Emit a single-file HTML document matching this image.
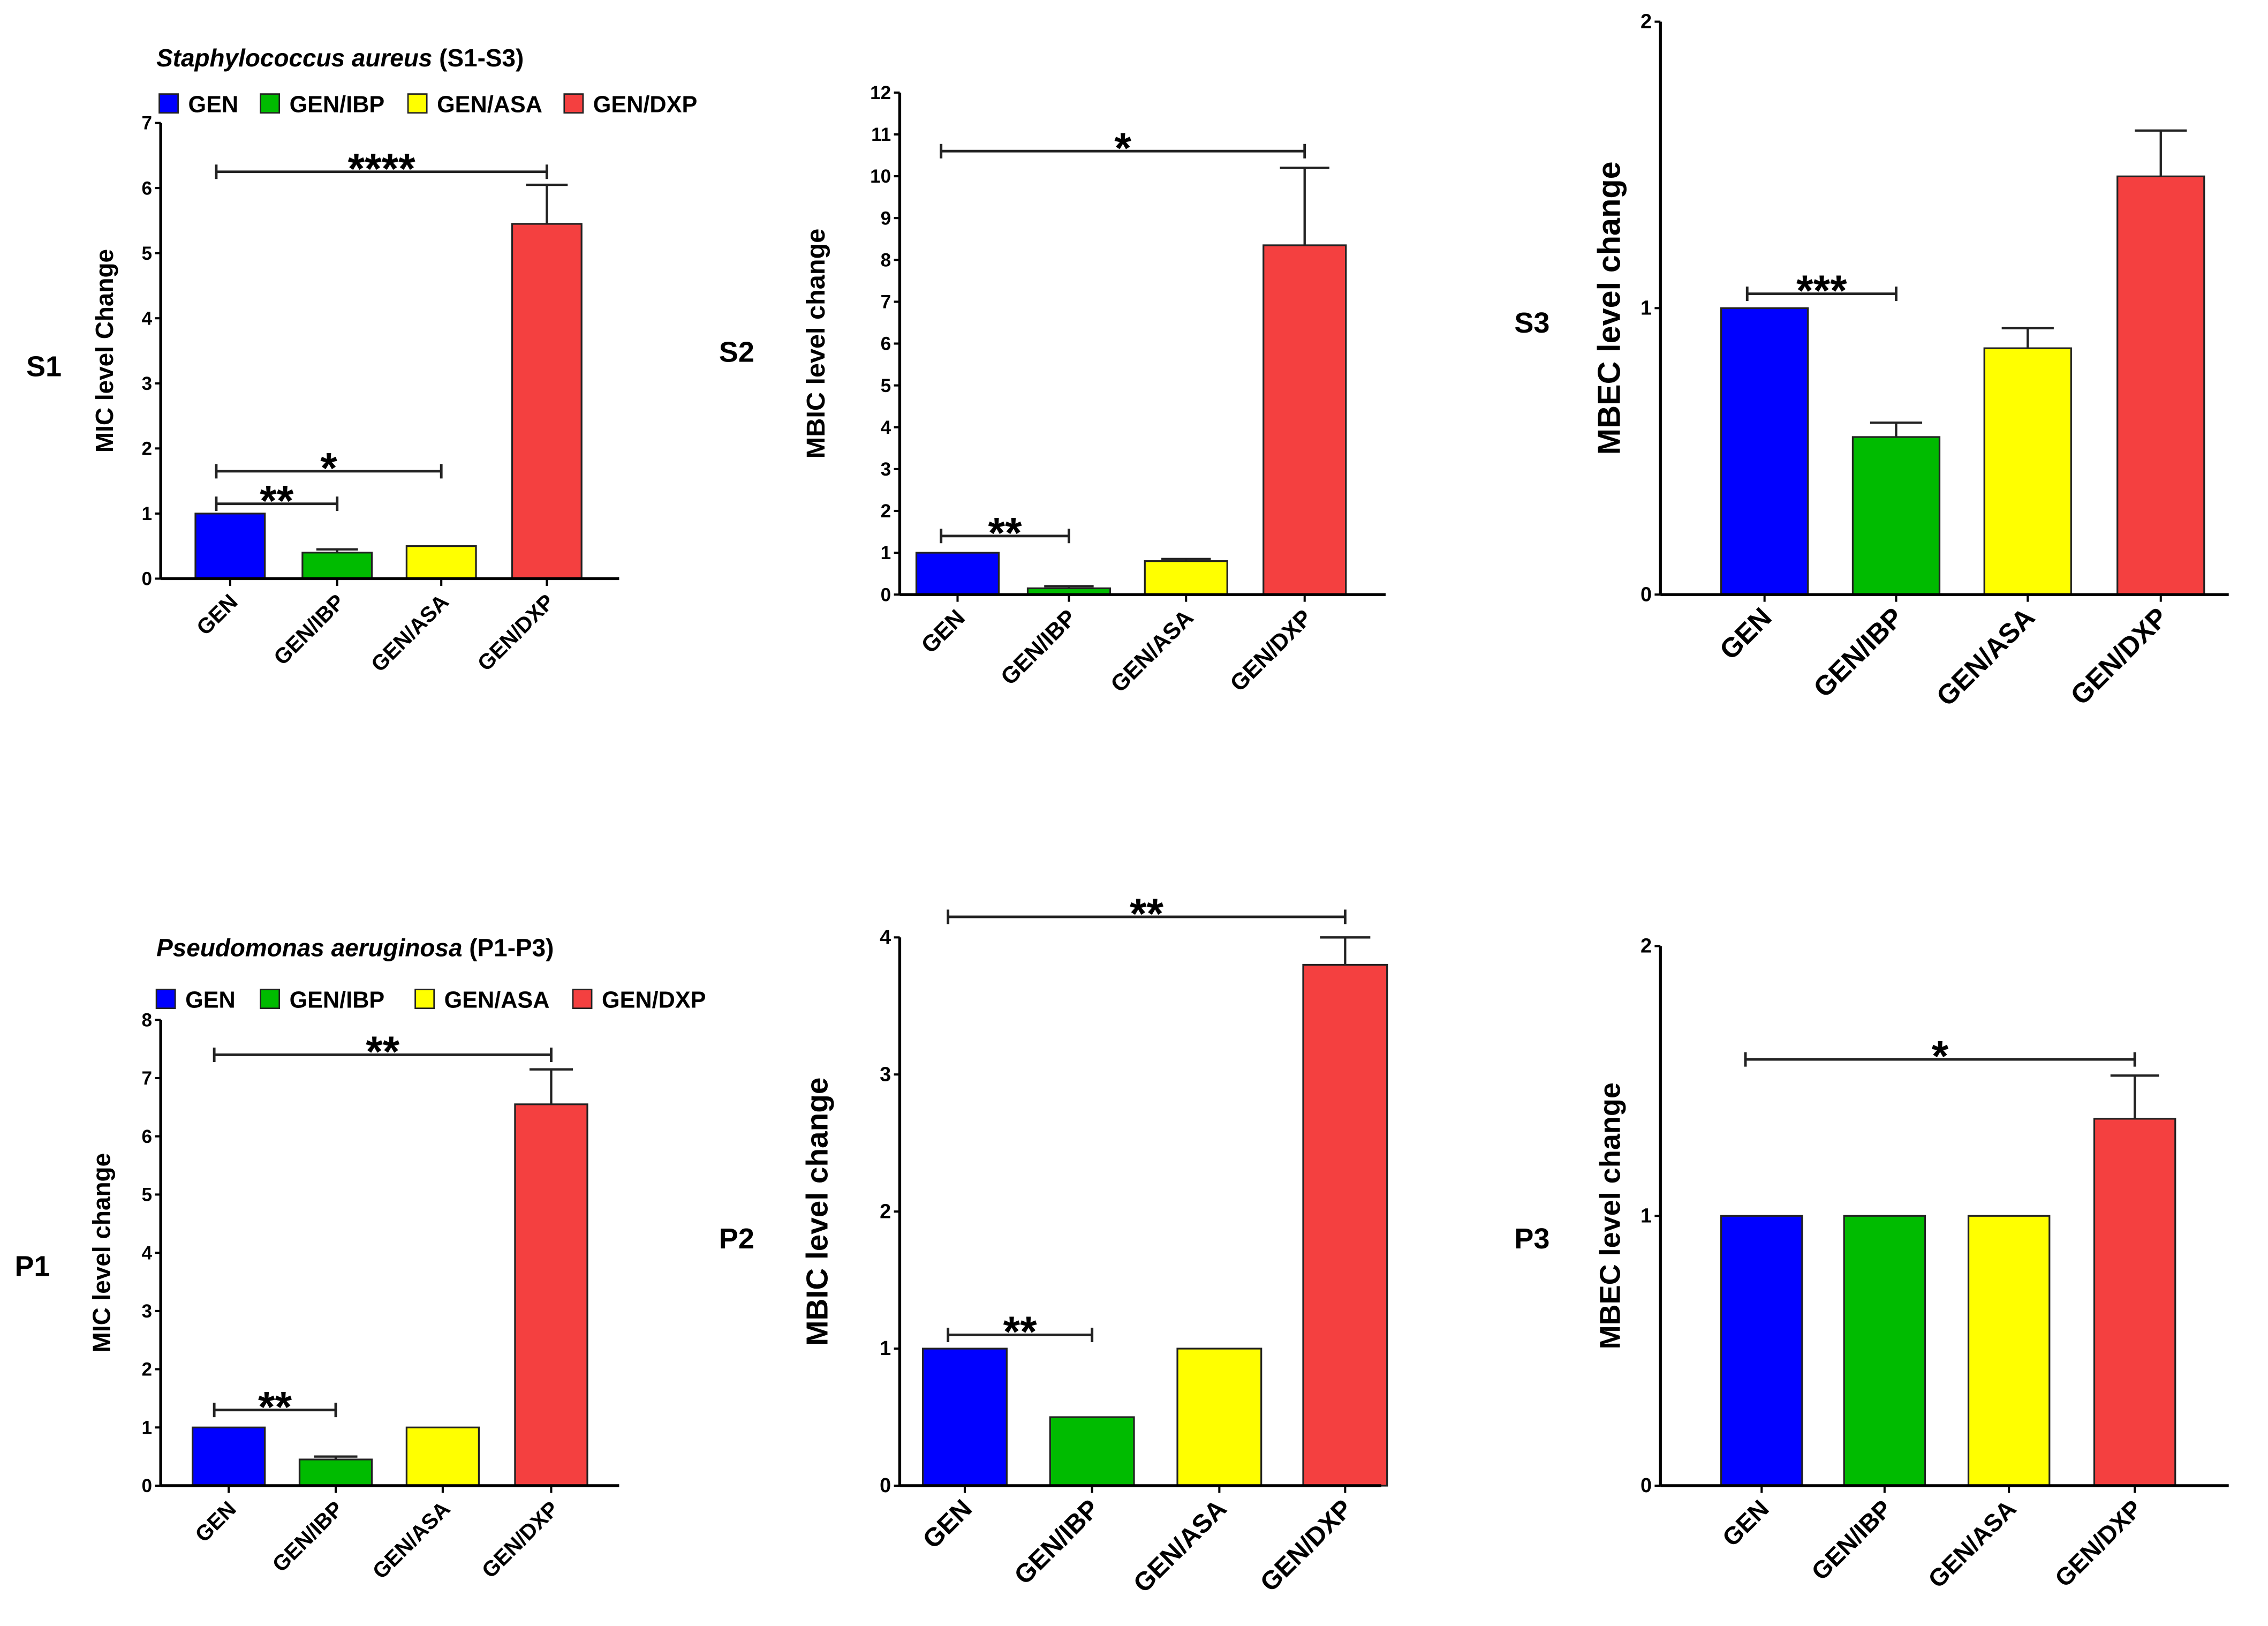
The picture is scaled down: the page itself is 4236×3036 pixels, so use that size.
<!DOCTYPE html>
<html><head><meta charset="utf-8">
<style>
html,body{margin:0;padding:0;background:#fff;}
svg{display:block;font-family:"Liberation Sans",Arial,sans-serif;}
</style></head>
<body>
<svg id="fig" width="4236" height="3036" viewBox="0 0 1568 1124" xmlns="http://www.w3.org/2000/svg">
<rect x="0" y="0" width="1568" height="1124" fill="#fff"/>
</svg>
<script>
const categories = ["GEN","GEN/IBP","GEN/ASA","GEN/DXP"];
const colors = ["#0000ff","#00bb00","#ffff00","#f44040"];
const s1Values = [1, 0.4, 0.5, 5.45];
const s1Errors = [0, 0.45, 0, 6.05];
const s2Values = [1, 0.15, 0.8, 8.35];
const s2Errors = [0, 0.2, 0.85, 10.2];
const s3Values = [1, 0.55, 0.86, 1.46];
const s3Errors = [0, 0.6, 0.93, 1.62];
const p1Values = [1, 0.45, 1, 6.55];
const p1Errors = [0, 0.5, 0, 7.15];
const p2Values = [1, 0.5, 1, 3.8];
const p2Errors = [0, 0, 0, 4.0];
const p3Values = [1, 1, 1, 1.36];
const p3Errors = [0, 0, 0, 1.52];
const s1Ticks = [0,1,2,3,4,5,6,7];
const s2Ticks = [0,1,2,3,4,5,6,7,8,9,10,11,12];
const s3Ticks = [0,1,2];
const p1Ticks = [0,1,2,3,4,5,6,7,8];
const p2Ticks = [0,1,2,3,4];
const p3Ticks = [0,1,2];
const s1Sig = [[0,1,1.15,"**"],[0,2,1.65,"*"],[0,3,6.25,"****"]];
const s2Sig = [[0,1,1.4,"**"],[0,3,10.6,"*"]];
const s3Sig = [[0,1,1.05,"***"]];
const p1Sig = [[0,1,1.3,"**"],[0,3,7.4,"**"]];
const p2Sig = [[0,1,1.1,"**"],[0,3,4.15,"**"]];
const p3Sig = [[0,3,1.58,"*"]];

const NS="http://www.w3.org/2000/svg";
const svg=document.getElementById('fig');
function mk(tag,attrs,parent,text){const e=document.createElementNS(NS,tag);for(const k in attrs)e.setAttribute(k,attrs[k]);if(text!==undefined)e.textContent=text;(parent||svg).appendChild(e);return e;}

const panels=[
 {id:'s1',ax:111,top:85,bot:400,right:428,max:7,centers:[159,233,305,378],bw:48,vals:s1Values,errs:s1Errors,ticks:s1Ticks,sig:s1Sig,ylab:'MIC level Change',ylx:78,lab:'S1',lx:18,ly:260,fs:13,lfs:17,xfs:15,bold:true},
 {id:'s2',ax:622,top:64,bot:411,right:958,max:12,centers:[662,739,820,902],bw:57,vals:s2Values,errs:s2Errors,ticks:s2Ticks,sig:s2Sig,ylab:'MBIC level change',ylx:570,lab:'S2',lx:497,ly:250,fs:13,lfs:18,xfs:16,bold:true},
 {id:'s3',ax:1148,top:15,bot:411,right:1541,max:2,centers:[1220,1311,1402,1494],bw:60,vals:s3Values,errs:s3Errors,ticks:s3Ticks,sig:s3Sig,ylab:'MBEC level change',ylx:1120,lab:'S3',lx:1047,ly:230,fs:14,lfs:22,xfs:19,bold:true},
 {id:'p1',ax:111,top:705,bot:1027,right:428,max:8,centers:[158,232,306,381],bw:50,vals:p1Values,errs:p1Errors,ticks:p1Ticks,sig:p1Sig,ylab:'MIC level change',ylx:76,lab:'P1',lx:10,ly:882,fs:13,lfs:17,xfs:15,bold:true},
 {id:'p2',ax:622,top:648,bot:1027,right:955,max:4,centers:[667,755,843,930],bw:58,vals:p2Values,errs:p2Errors,ticks:p2Ticks,sig:p2Sig,ylab:'MBIC level change',ylx:572,lab:'P2',lx:497,ly:863,fs:14,lfs:21,xfs:18,bold:true},
 {id:'p3',ax:1148,top:654,bot:1027,right:1541,max:2,centers:[1218,1303,1389,1476],bw:56,vals:p3Values,errs:p3Errors,ticks:p3Ticks,sig:p3Sig,ylab:'MBEC level change',ylx:1120,lab:'P3',lx:1047,ly:863,fs:14,lfs:20,xfs:17,bold:true}
];

panels.forEach(p=>{
  const g=mk('g',{});
  
  
  const y=v=>p.bot-(v/p.max)*(p.bot-p.top);
  p.vals.forEach((v,i)=>{
    const cx=p.centers[i];
    const r=mk('rect',{x:cx-p.bw/2,y:y(v),width:p.bw,height:p.bot-y(v),fill:colors[i],stroke:'#222','stroke-width':1.2},g);
    
    
    if(p.errs[i]>v){
      const e=mk('path',{d:`M${cx} ${y(v)}V${y(p.errs[i])}M${cx-p.bw*0.3} ${y(p.errs[i])}H${cx+p.bw*0.3}`,stroke:'#222','stroke-width':1.6,fill:'none'},g);
      
      
    }
  });
  const ya=mk('line',{x1:p.ax,y1:p.top,x2:p.ax,y2:p.bot,stroke:'#000','stroke-width':2},g);
  
  
  const xa=mk('line',{x1:p.ax,y1:p.bot,x2:p.right,y2:p.bot,stroke:'#000','stroke-width':2},g);
  
  
  p.ticks.forEach(t=>{
    mk('line',{x1:p.ax-4,y1:y(t),x2:p.ax,y2:y(t),stroke:'#000','stroke-width':1.5},g);
    const tl=mk('text',{x:p.ax-6,y:y(t)+4.5,'text-anchor':'end','font-size':p.fs,'font-weight':'bold'},g,String(t));
    
    
  });
  categories.forEach((c,i)=>{
    const cx=p.centers[i];
    mk('line',{x1:cx,y1:p.bot,x2:cx,y2:p.bot+5,stroke:'#000','stroke-width':1.5},g);
    const tl=mk('text',{x:cx+6,y:p.bot+17,'text-anchor':'end','font-size':p.xfs,'font-weight':'bold',transform:`rotate(-45 ${cx+6} ${p.bot+17})`},g,c);
    
    
  });
  const cy=(p.top+p.bot)/2;
  const yl=mk('text',{x:p.ylx,y:cy,'text-anchor':'middle','font-size':p.lfs,'font-weight':p.bold?'bold':'normal',transform:`rotate(-90 ${p.ylx} ${cy})`},g,p.ylab);
  
  
  const pl=mk('text',{x:p.lx,y:p.ly,'font-size':20,'font-weight':'bold'},g,p.lab);
  
  
  p.sig.forEach(s=>{
    const x1=p.centers[s[0]]-p.bw*0.2, x2=p.centers[s[1]];
    const yy=y(s[2]);
    const b=mk('path',{d:`M${x1} ${yy-5}V${yy+5}M${x1} ${yy}H${x2}M${x2} ${yy-5}V${yy+5}`,stroke:'#222','stroke-width':1.8,fill:'none'},g);
    
    
    const st=mk('text',{x:(x1+x2)/2,y:yy+8,'text-anchor':'middle','font-size':30,'font-weight':'bold'},g,s[3]);
    
    
  });
});

function titleLegend(tx,ty,italic,rest,ly,pos,fs){
  const t=mk('text',{x:tx,y:ty,'font-size':17,'font-weight':'bold'});
  
  
  mk('tspan',{'font-style':'italic'},t,italic);
  mk('tspan',{},t,' '+rest);
  categories.forEach((c,i)=>{
    const lg=mk('g',{});
    
    
    mk('rect',{x:pos[i],y:ly-6,width:13,height:13,fill:colors[i],stroke:'#222','stroke-width':1},lg);
    mk('text',{x:pos[i]+20,y:ly+6.5,'font-size':fs,'font-weight':'bold'},lg,c);
  });
}
titleLegend(108,46,'Staphylococcus aureus','(S1-S3)',71,[110,180,282,390],16);
titleLegend(108,661,'Pseudomonas aeruginosa','(P1-P3)',690,[108,180,287,396],16);
</script>
</body></html>
